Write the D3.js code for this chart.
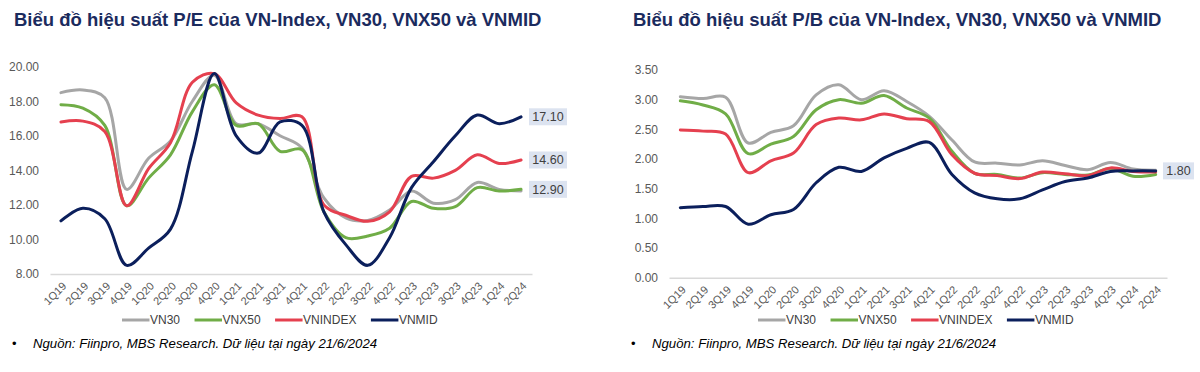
<!DOCTYPE html>
<html>
<head>
<meta charset="utf-8">
<script src="https://cdn.jsdelivr.net/npm/d3@7"></script>
<style>
  body { margin: 0; background: #fff; font-family: 'Liberation Sans', Arial, sans-serif; }
  .axis text { fill: #595959; font-size: 12px; font-family: 'Liberation Sans', Arial, sans-serif; }
  .axis-x text { font-size: 11px; }
  .axis .domain { stroke: #d9d9d9; stroke-width: 1.5px; }
  .title { fill: #1b2b5e; font-size: 18.5px; font-weight: bold; }
  .legend text, .note { fill: #404040; }
</style>
</head>
<body>
<svg id="canvas" width="1200" height="372"></svg>
<script>
var quarters = ['1Q19','2Q19','3Q19','4Q19','1Q20','2Q20','3Q20','4Q20','1Q21','2Q21','3Q21',
                '4Q21','1Q22','2Q22','3Q22','4Q22','1Q23','2Q23','3Q23','4Q23','1Q24','2Q24'];
var seriesNames = ['VN30','VNX50','VNINDEX','VNMID'];

// P/E
var peVN30    = [18.5,18.65,18.2,12.9,14.7,15.7,18.0,19.5,16.7,16.7,16.0,15.3,12.4,11.25,11.1,11.7,12.8,12.1,12.3,13.3,12.9,12.8];
var peVNX50   = [17.8,17.6,16.6,11.95,13.55,14.9,17.4,18.95,16.6,16.7,15.1,15.2,11.6,10.1,10.2,10.65,12.2,11.8,11.9,13.0,12.8,12.9];
var peVNINDEX = [16.8,16.85,16.25,11.95,14.1,15.6,19.1,19.6,17.9,17.2,17.0,17.1,12.0,11.4,11.05,11.6,13.65,13.55,14.0,14.9,14.4,14.6];
var peVNMID   = [11.08,11.8,11.2,8.5,9.5,10.6,15.1,19.6,16.0,15.0,16.8,16.6,11.6,9.7,8.5,10.1,13.0,14.5,16.0,17.2,16.7,17.1];
var peTicks   = [8,10,12,14,16,18,20];

// P/B
var pbVN30    = [3.05,3.02,3.04,2.27,2.45,2.56,3.08,3.25,3.0,3.15,2.97,2.72,2.32,1.95,1.93,1.9,1.97,1.89,1.82,1.94,1.83,1.81];
var pbVNX50   = [2.98,2.91,2.76,2.09,2.25,2.38,2.83,3.0,2.94,3.07,2.86,2.69,2.13,1.76,1.74,1.68,1.77,1.74,1.73,1.84,1.71,1.74];
var pbVNINDEX = [2.49,2.47,2.42,1.77,1.97,2.1,2.58,2.69,2.66,2.76,2.68,2.63,2.07,1.76,1.72,1.67,1.78,1.75,1.72,1.85,1.79,1.78];
var pbVNMID   = [1.18,1.2,1.2,0.9,1.06,1.15,1.6,1.86,1.79,2.02,2.18,2.28,1.74,1.43,1.33,1.33,1.48,1.62,1.68,1.79,1.8,1.8];
var pbTicks   = [0,0.5,1,1.5,2,2.5,3,3.5];

var scaleColor = d3.scaleOrdinal()
    .domain(seriesNames)
    .range(['#a6a6a6','#70ad47','#e5404f','#0b1f5c']);

var svg = d3.select('#canvas');

drawChart({
  title: 'Biểu đồ hiệu suất P/E của VN-Index, VN30, VNX50 và VNMID',
  titleX: 14,
  x0: 50, x1: 532, yTop: 66.7, yBottom: 274,
  ticks: peTicks,
  series: [peVN30, peVNX50, peVNINDEX, peVNMID],
  labelled: [3, 2, 1],   // VNMID, VNINDEX, VNX50
  labelX: 529, labelW: 38,
  legendX: 122
});

drawChart({
  title: 'Biểu đồ hiệu suất P/B của VN-Index, VN30, VNX50 và VNMID',
  titleX: 633,
  x0: 669, x1: 1167, yTop: 70, yBottom: 277.7,
  ticks: pbTicks,
  series: [pbVN30, pbVNX50, pbVNINDEX, pbVNMID],
  labelled: [3],
  labelX: 1163, labelW: 31,
  legendX: 758
});

function drawChart(cfg){
  var g = svg.append('g');

  g.append('text')
    .attr('class','title')
    .attr('x', cfg.titleX)
    .attr('y', 26)
    .text(cfg.title);

  var scaleX = d3.scalePoint()
      .domain(quarters)
      .range([cfg.x0, cfg.x1])
      .padding(0.5);
  var scaleY = d3.scaleLinear()
      .domain([cfg.ticks[0], cfg.ticks[cfg.ticks.length-1]])
      .range([cfg.yBottom, cfg.yTop]);

  // Axis
  var axisY = d3.axisLeft()
      .scale(scaleY)
      .tickValues(cfg.ticks)
      .tickFormat(d3.format('.2f'))
      .tickSize(0)
      .tickPadding(11);
  g.append('g').attr('class','axis axis-y')
    .attr('transform','translate('+cfg.x0+',0)')
    .call(axisY)
    .call(function(a){ a.select('.domain').remove(); });

  var axisX = d3.axisBottom()
      .scale(scaleX)
      .tickSize(0)
      .tickSizeOuter(0);
  g.append('g').attr('class','axis axis-x')
    .attr('transform','translate(0,'+cfg.yBottom+')')
    .call(axisX)
    .selectAll('text')
    .attr('x',0).attr('y',0).attr('dy','0.35em')
    .attr('text-anchor','end')
    .attr('transform','translate(3,10) rotate(-45)');

  // Lines
  var line = d3.line()
      .x(function(d,i){ return scaleX(quarters[i]); })
      .y(function(d){ return scaleY(d); })
      .curve(d3.curveCatmullRom.alpha(0.5));

  g.selectAll('.series')
    .data(cfg.series)
    .enter()
    .append('path')
    .attr('class','series')
    .attr('d', line)
    .attr('fill','none')
    .attr('stroke', function(d,i){ return scaleColor(seriesNames[i]); })
    .attr('stroke-width', 3)
    .attr('stroke-linejoin','round')
    .attr('stroke-linecap','round');

  // End value labels
  var labels = g.selectAll('.endLabel')
    .data(cfg.labelled)
    .enter()
    .append('g')
    .attr('class','endLabel')
    .attr('transform', function(k){
      var s = cfg.series[k];
      return 'translate('+cfg.labelX+','+scaleY(s[s.length-1])+')';
    });
  labels.append('rect')
    .attr('x',0).attr('y',-8.5)
    .attr('width',cfg.labelW).attr('height',17)
    .attr('fill','#dce3f0');
  labels.append('text')
    .attr('x',cfg.labelW/2).attr('dy','0.35em')
    .attr('text-anchor','middle')
    .style('font-size','12.5px')
    .style('fill','#404040')
    .text(function(k){
      var s = cfg.series[k];
      return d3.format('.2f')(s[s.length-1]);
    });

  // Legend
  var legend = g.append('g').attr('class','legend')
      .attr('transform','translate('+cfg.legendX+',320)');
  var lx = 0;
  seriesNames.forEach(function(name){
    legend.append('line')
      .attr('x1',lx).attr('x2',lx+27.5)
      .attr('stroke',scaleColor(name))
      .attr('stroke-width',3);
    var t = legend.append('text')
      .attr('x',lx+28).attr('dy','0.35em')
      .style('font-size','12px')
      .text(name);
    lx += 28 + t.node().getComputedTextLength() + 14.5;
  });

  // Source note
  g.append('text')
    .attr('class','note')
    .attr('x', cfg.titleX - 2)
    .attr('y', 348)
    .style('font-size','13px')
    .style('fill','#000')
    .text('•');
  g.append('text')
    .attr('class','note')
    .attr('x', cfg.titleX + 19)
    .attr('y', 348)
    .style('font-size','13.2px')
    .style('font-style','italic')
    .style('fill','#000')
    .text('Nguồn: Fiinpro, MBS Research. Dữ liệu tại ngày 21/6/2024');
}
</script>
</body>
</html>
